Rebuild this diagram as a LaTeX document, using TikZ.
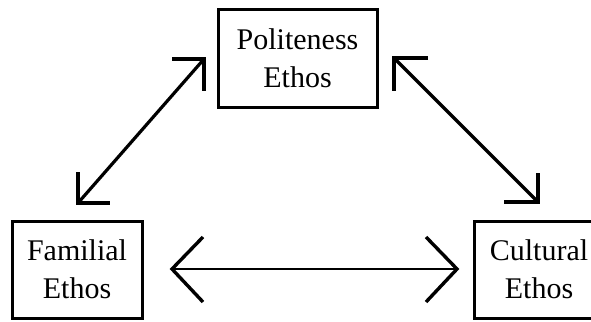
\documentclass[tikz,border=0pt]{standalone}
\usepackage{fontspec}
\setmainfont{Liberation Serif}
\begin{document}
\begin{tikzpicture}[x=1pt,y=-1pt,
  box/.style={draw,line width=3pt,minimum width=130pt,minimum height=97pt,
    align=center,inner sep=0pt,font=\fontsize{30}{38}\selectfont},
  shaft/.style={line width=3.2pt},
  hshaft/.style={line width=2.4pt},
  barb/.style={line width=3.4pt,line join=miter}]
\useasboundingbox (0,0) rectangle (591,321);
\node[box,minimum width=159pt] (pol) at (297.5,58.5) {Politeness\\Ethos};
\node[box] (fam) at (77,269.5) {Familial\\Ethos};
\node[box] (cul) at (539,269.5) {Cultural\\Ethos};
% left diagonal
\coordinate (a1) at (204,59);
\coordinate (a2) at (78,203);
\draw[shaft] (a1) -- (a2);
\draw[barb] (a1) ++(-32,0) -- (a1) -- ++(0,32);
\draw[barb] (a2) ++(0,-31) -- (a2) -- ++(32,0);
% right diagonal
\coordinate (b1) at (394,58);
\coordinate (b2) at (538,202);
\draw[shaft] (b1) -- (b2);
\draw[barb] (b1) ++(34,0) -- (b1) -- ++(0,33);
\draw[barb] (b2) ++(-34,0) -- (b2) -- ++(0,-29);
% horizontal
\coordinate (c1) at (172,269);
\coordinate (c2) at (457,269);
\draw[hshaft] (c1) -- (c2);
\draw[barb] (c1) ++(31,-32) -- (c1) -- ++(31,33);
\draw[barb] (c2) ++(-31,-32) -- (c2) -- ++(-31,33);
\end{tikzpicture}
\end{document}
